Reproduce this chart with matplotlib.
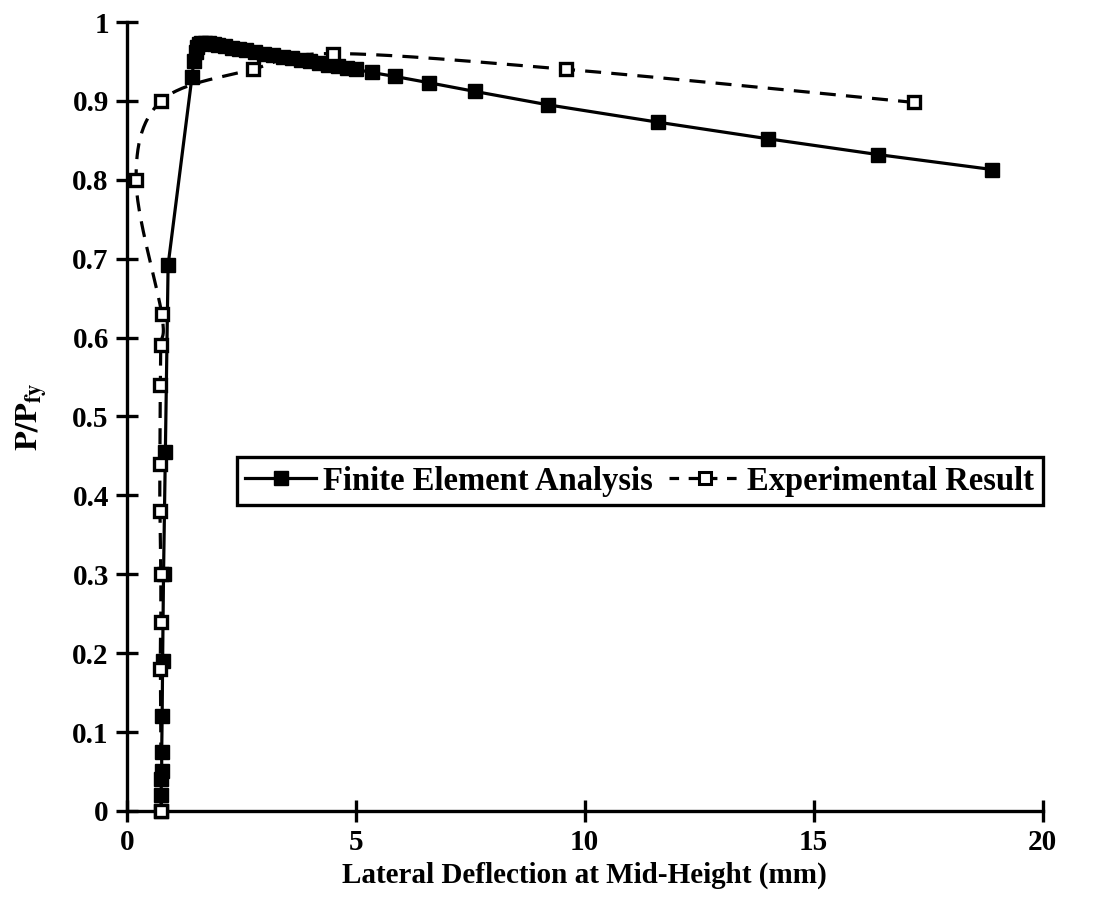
import numpy as np
import matplotlib
matplotlib.use('Agg')
import matplotlib.pyplot as plt
from matplotlib.lines import Line2D

# finite element analysis (P/Pfy vs lateral deflection, mm)
fea_x = [0.75, 0.75, 0.75, 0.76, 0.76, 0.77, 0.78, 0.80, 0.84, 0.90,
         1.42, 1.46, 1.50, 1.53, 1.57, 1.62, 1.70, 1.80, 1.90, 2.00,
         2.15, 2.30, 2.45, 2.60, 2.80, 3.00, 3.20, 3.40, 3.60, 3.80,
         4.00, 4.20, 4.40, 4.60, 4.80, 5.00, 5.35, 5.85, 6.60, 7.60,
         9.20, 11.60, 14.00, 16.40, 18.90]
fea_y = [0.000, 0.020, 0.040, 0.050, 0.075, 0.120, 0.190, 0.300, 0.455, 0.692,
         0.930, 0.950, 0.962, 0.968, 0.972, 0.974, 0.974, 0.973, 0.972, 0.971,
         0.969, 0.967, 0.966, 0.964, 0.962, 0.960, 0.958, 0.956, 0.954, 0.952,
         0.950, 0.948, 0.946, 0.944, 0.942, 0.940, 0.936, 0.931, 0.923, 0.912,
         0.895, 0.873, 0.852, 0.832, 0.813]

# experimental result
exp_x = [0.75, 0.73, 0.74, 0.74, 0.72, 0.72, 0.73, 0.74, 0.76, 0.20,
         0.75, 2.75, 4.50, 9.60, 17.20]
exp_y = [0.000, 0.180, 0.240, 0.300, 0.380, 0.440, 0.540, 0.590, 0.630, 0.800,
         0.900, 0.940, 0.960, 0.940, 0.898]


def smooth(x, y, n=30):
    # excel style smoothed line, computed in screen-like units
    sx, sy = 916 / 20.0, 790.0
    p = np.column_stack([np.array(x) * sx, np.array(y) * sy])
    out = [p[:1]]
    t = np.linspace(0, 1, n)[1:, None]
    for i in range(len(p) - 1):
        p0 = p[max(i - 1, 0)]
        p1 = p[i]
        p2 = p[i + 1]
        p3 = p[min(i + 2, len(p) - 1)]
        c1 = p1 + (p2 - p0) / 6
        c2 = p2 - (p3 - p1) / 6
        seg = (1 - t)**3 * p1 + 3 * (1 - t)**2 * t * c1 + 3 * (1 - t) * t**2 * c2 + t**3 * p2
        out.append(seg)
    q = np.vstack(out)
    return q[:, 0] / sx, q[:, 1] / sy


plt.rcParams['font.family'] = ['Liberation Serif', 'DejaVu Serif']
plt.rcParams['font.weight'] = 'bold'
plt.rcParams['axes.labelweight'] = 'bold'
plt.rcParams['mathtext.fontset'] = 'stix'

fig = plt.figure(figsize=(10.94, 8.98), dpi=100)
ax = fig.add_axes([0.116, 0.097, 0.837, 0.8785])

ax.plot(fea_x, fea_y, color='black', linewidth=2.3, marker='s', markersize=9.5,
        markerfacecolor='black', markeredgecolor='black', clip_on=False, zorder=3)

sx_, sy_ = smooth(exp_x, exp_y)
ax.plot(sx_, sy_, color='black', linewidth=2.3, linestyle='--', dashes=[5, 3.2],
        clip_on=False, zorder=2)
ax.plot(exp_x, exp_y, linestyle='none', marker='s', markersize=8.5,
        markerfacecolor='white', markeredgecolor='black', markeredgewidth=2.4,
        clip_on=False, zorder=4)

ax.set_xlim(0, 20)
ax.set_ylim(0, 1)
ax.set_xticks([0, 5, 10, 15, 20])
ax.set_yticks(np.arange(0, 1.01, 0.1))
ax.set_yticklabels(['0', '0.1', '0.2', '0.3', '0.4', '0.5', '0.6', '0.7', '0.8', '0.9', '1'])

for s in ['top', 'right']:
    ax.spines[s].set_visible(False)
for s in ['left', 'bottom']:
    ax.spines[s].set_linewidth(2.4)
ax.tick_params(direction='inout', length=16, width=2.4, labelsize=21, pad=5)

ax.set_xlabel('Lateral Deflection at Mid-Height (mm)', fontsize=21, labelpad=4)
ax.set_ylabel(r'$\mathbf{P/P_{fy}}$', fontsize=23, labelpad=16)

h1 = Line2D([], [], color='black', linewidth=2.3, marker='s', markersize=9.5,
            markerfacecolor='black')
h2 = Line2D([], [], color='black', linewidth=2.3, linestyle='--', dashes=[3, 3],
            marker='s', markersize=8, markerfacecolor='white', markeredgewidth=2.2)
leg = ax.legend([h1, h2], ['Finite Element Analysis', 'Experimental Result'],
                ncol=2, loc='center right', bbox_to_anchor=(1.0, 0.418),
                fontsize=23.5, frameon=True, fancybox=False, edgecolor='black',
                framealpha=1, borderpad=0.25, handlelength=2.2, handletextpad=0.2,
                columnspacing=0.5, borderaxespad=0)
leg.get_frame().set_linewidth(2.4)

fig.savefig('out.png', dpi=100)
